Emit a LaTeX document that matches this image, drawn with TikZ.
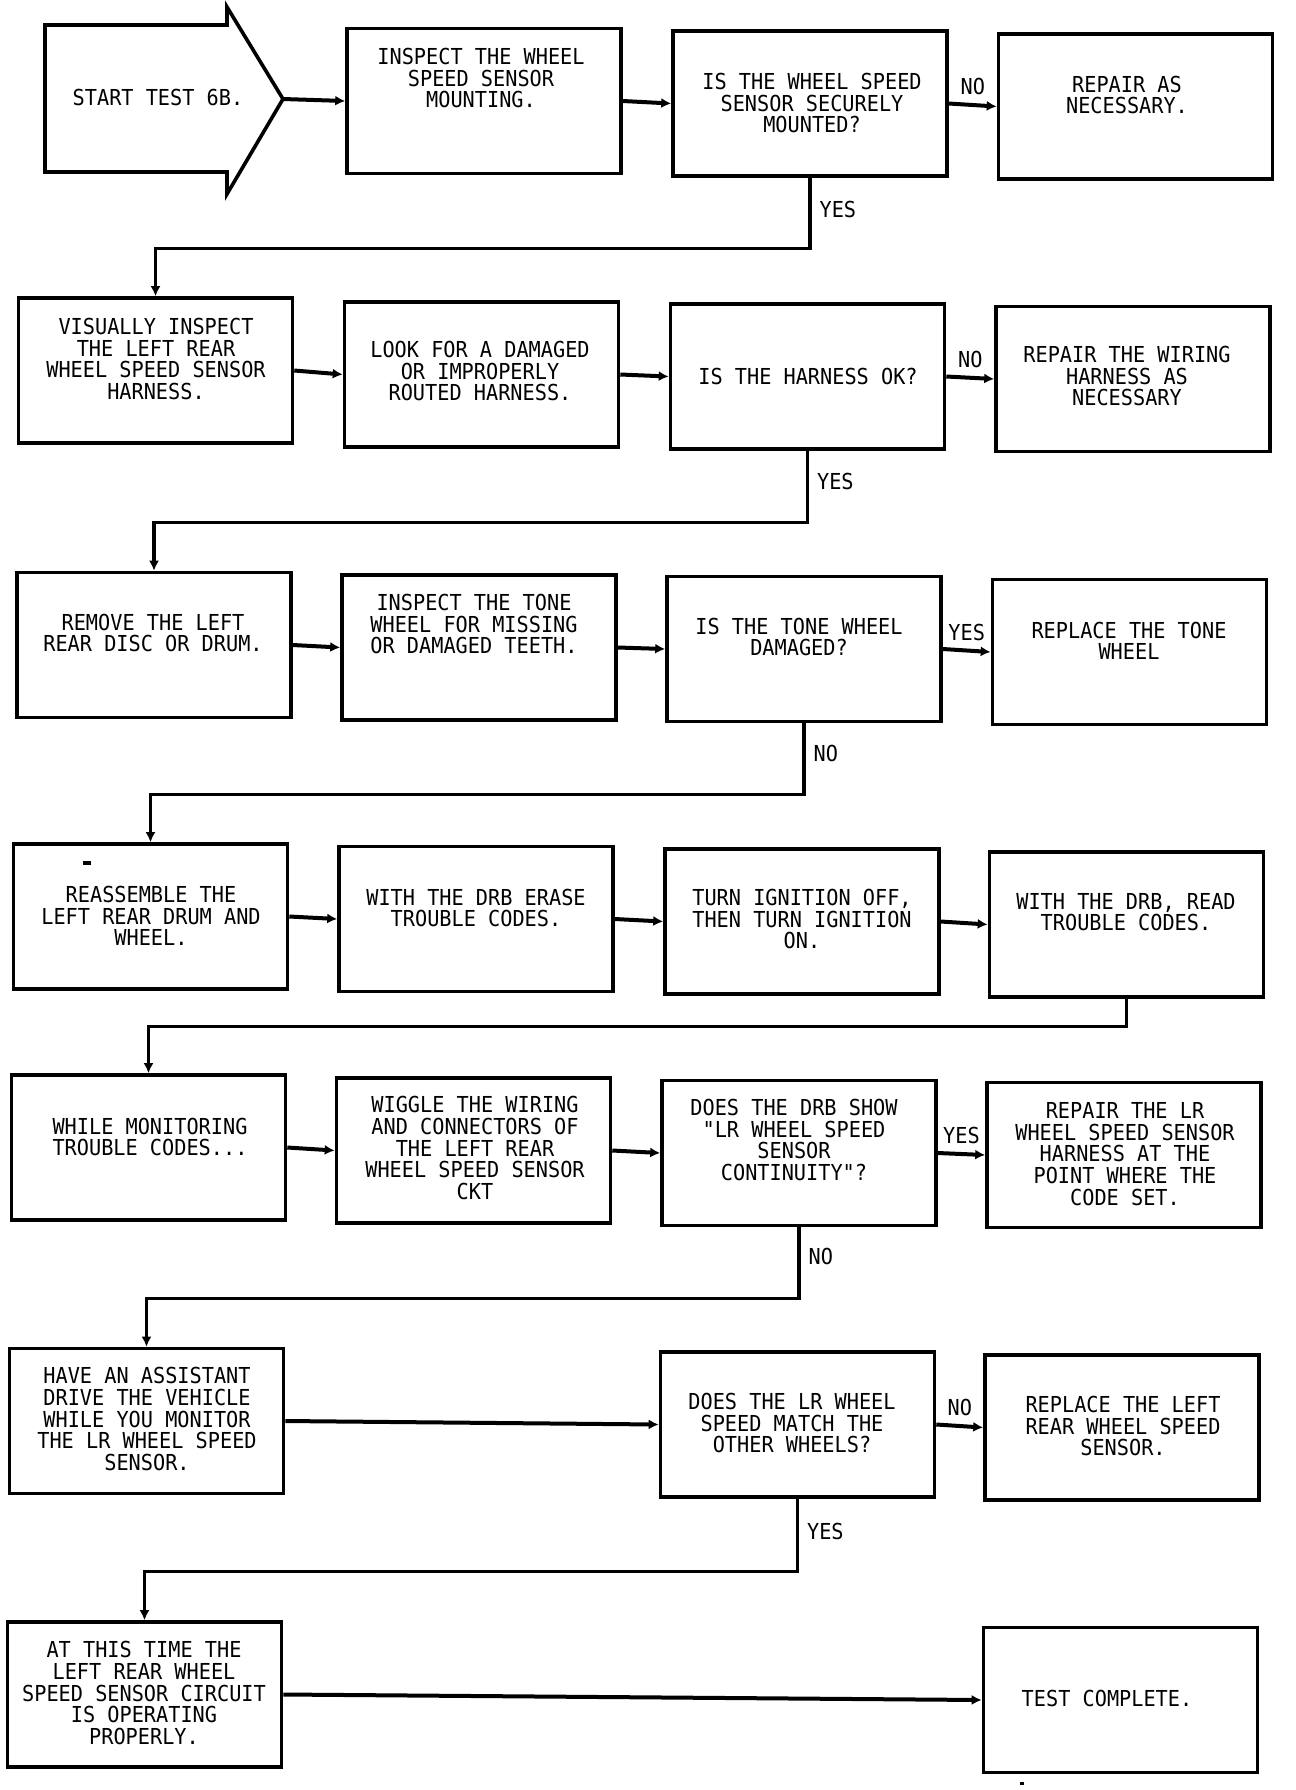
\documentclass[tikz,border=0pt]{standalone}
\usepackage{fontspec}
\newfontfamily\plotter[FakeStretch=0.92]{DejaVu Sans Mono}
\usetikzlibrary{arrows.meta, positioning}

\begin{document}
\begin{tikzpicture}[x=0.5pt, y=-0.5pt,
  caja/.style={draw, line width=1.8pt, minimum width=137pt, minimum height=72.5pt, inner sep=0pt},
  texto/.style={align=center, inner sep=0pt, font=\plotter\fontsize{11}{10.8}\selectfont},
  etiq/.style={inner sep=1pt, font=\plotter\fontsize{11}{10.8}\selectfont},
  flujo/.style={line width=2pt, -{Latex[length=5pt,width=5pt]}},
  ruta/.style={line width=1.6pt, -{Latex[length=5pt,width=5pt]}}]
\path[use as bounding box, fill=white] (0,0) rectangle (1296,1790);

% Fila 1: flecha de inicio y primera pregunta
\draw[line width=1.8pt] (45,25) -- (227,25) -- (227,7) -- (283,99) -- (227,194) -- (227,172) -- (45,172) -- cycle;
\coordinate (punta) at (283,99);
\node[texto] (t11) at (158,97) {START TEST 6B.};
\node[caja] (b12) at (484,101) {};
\node[texto] (t12) at (481,78) {INSPECT THE WHEEL\\SPEED SENSOR\\MOUNTING.};
\node[caja] (b13) at (810,103.5) {};
\node[texto] (t13) at (812,103) {IS THE WHEEL SPEED\\SENSOR SECURELY\\MOUNTED?};
\node[caja] (b14) at (1135.5,106.5) {};
\node[texto] (t14) at (1127,95) {REPAIR AS\\NECESSARY.};

% Fila 2: mazo de cables
\node[caja] (b21) at (155.5,370.5) {};
\node[texto] (t21) at (156,359) {VISUALLY INSPECT\\THE LEFT REAR\\WHEEL SPEED SENSOR\\HARNESS.};
\node[caja] (b22) at (481.5,374.5) {};
\node[texto] (t22) at (480,371) {LOOK FOR A DAMAGED\\OR IMPROPERLY\\ROUTED HARNESS.};
\node[caja] (b23) at (807.5,376.5) {};
\node[texto] (t23) at (808,376) {IS THE HARNESS OK?};
\node[caja] (b24) at (1133,379) {};
\node[texto] (t24) at (1127,376) {REPAIR THE WIRING\\HARNESS AS\\NECESSARY};

% Fila 3: rueda fonica
\node[caja] (b31) at (154,645) {};
\node[texto] (t31) at (153,633) {REMOVE THE LEFT\\REAR DISC OR DRUM.};
\node[caja] (b32) at (479,647.5) {};
\node[texto] (t32) at (474,624) {INSPECT THE TONE\\WHEEL FOR MISSING\\OR DAMAGED TEETH.};
\node[caja] (b33) at (804,649) {};
\node[texto] (t33) at (799,637) {IS THE TONE WHEEL\\DAMAGED?};
\node[caja] (b34) at (1129.5,652) {};
\node[texto] (t34) at (1129,641) {REPLACE THE TONE\\WHEEL};

% Fila 4: borrar y leer codigos
\node[caja] (b41) at (150.5,916.5) {};
\node[texto] (t41) at (151,916) {REASSEMBLE THE\\LEFT REAR DRUM AND\\WHEEL.};
\fill (83,861) rectangle (91,865);
\node[caja] (b42) at (476,919) {};
\node[texto] (t42) at (476,908) {WITH THE DRB ERASE\\TROUBLE CODES.};
\node[caja] (b43) at (802,921.5) {};
\node[texto] (t43) at (802,919) {TURN IGNITION OFF,\\THEN TURN IGNITION\\ON.};
\node[caja] (b44) at (1126.5,924.5) {};
\node[texto] (t44) at (1126,912) {WITH THE DRB, READ\\TROUBLE CODES.};

% Fila 5: mover el cableado
\node[caja] (b51) at (148.5,1147.5) {};
\node[texto] (t51) at (150,1137) {WHILE MONITORING\\TROUBLE CODES...};
\node[caja] (b52) at (473.5,1150.5) {};
\node[texto] (t52) at (475,1148) {WIGGLE THE WIRING\\AND CONNECTORS OF\\THE LEFT REAR\\WHEEL SPEED SENSOR\\CKT};
\node[caja] (b53) at (799,1153) {};
\node[texto] (t53) at (794,1140) {DOES THE DRB SHOW\\"LR WHEEL SPEED\\SENSOR\\CONTINUITY"?};
\node[caja] (b54) at (1124,1155) {};
\node[texto] (t54) at (1125,1154) {REPAIR THE LR\\WHEEL SPEED SENSOR\\HARNESS AT THE\\POINT WHERE THE\\CODE SET.};

% Fila 6: prueba en carretera
\node[caja] (b61) at (146.5,1421) {};
\node[texto] (t61) at (147,1419) {HAVE AN ASSISTANT\\DRIVE THE VEHICLE\\WHILE YOU MONITOR\\THE LR WHEEL SPEED\\SENSOR.};
\node[caja] (b63) at (797.5,1424.5) {};
\node[texto] (t63) at (792,1423) {DOES THE LR WHEEL\\SPEED MATCH THE\\OTHER WHEELS?};
\node[caja] (b64) at (1122,1427.5) {};
\node[texto] (t64) at (1123,1426) {REPLACE THE LEFT\\REAR WHEEL SPEED\\SENSOR.};

% Fila 7: fin
\node[caja] (b71) at (144.5,1694.5) {};
\node[texto] (t71) at (144,1693) {AT THIS TIME THE\\LEFT REAR WHEEL\\SPEED SENSOR CIRCUIT\\IS OPERATING\\PROPERLY.};
\node[caja] (b74) at (1120.5,1700) {};
\node[texto] (t74) at (1107,1698) {TEST COMPLETE.};
\fill (1020,1782) rectangle (1024,1785);

% Conectores
\draw[flujo] (punta) -- (b12.west);
\draw[flujo] (b12.east) -- (b13.west);
\draw[flujo] (b13.east) -- node[etiq, above=3pt] (no1) {NO} (b14.west);
\draw[ruta] (b13.south) -- node[etiq, right=3pt, pos=0.45] (si1) {YES} ++(0,71) -| (b21.north);

\draw[flujo] (b21.east) -- (b22.west);
\draw[flujo] (b22.east) -- (b23.west);
\draw[flujo] (b23.east) -- node[etiq, above=3pt] (no2) {NO} (b24.west);
\draw[ruta] (b23.south) -- node[etiq, right=3pt, pos=0.43] (si2) {YES} ++(0,72) -| (b31.north);

\draw[flujo] (b31.east) -- (b32.west);
\draw[flujo] (b32.east) -- (b33.west);
\draw[flujo] (b33.east) -- node[etiq, above=3pt] (si3) {YES} (b34.west);
\draw[ruta] (b33.south) -- node[etiq, right=3pt, pos=0.42] (no3) {NO} ++(0,71) -| (b41.north);

\draw[flujo] (b41.east) -- (b42.west);
\draw[flujo] (b42.east) -- (b43.west);
\draw[flujo] (b43.east) -- (b44.west);
\draw[ruta] (b44.south) -- ++(0,28) -| (b51.north);

\draw[flujo] (b51.east) -- (b52.west);
\draw[flujo] (b52.east) -- (b53.west);
\draw[flujo] (b53.east) -- node[etiq, above=3pt] (si5) {YES} (b54.west);
\draw[ruta] (b53.south) -- node[etiq, right=3pt, pos=0.41] (no5) {NO} ++(0,71) -| (b61.north);

\draw[flujo] (b61.east) -- (b63.west);
\draw[flujo] (b63.east) -- node[etiq, above=3pt] (no6) {NO} (b64.west);
\draw[ruta] (b63.south) -- node[etiq, right=3pt, pos=0.45] (si6) {YES} ++(0,73) -| (b71.north);

\draw[flujo] (b71.east) -- (b74.west);
\end{tikzpicture}
\end{document}
